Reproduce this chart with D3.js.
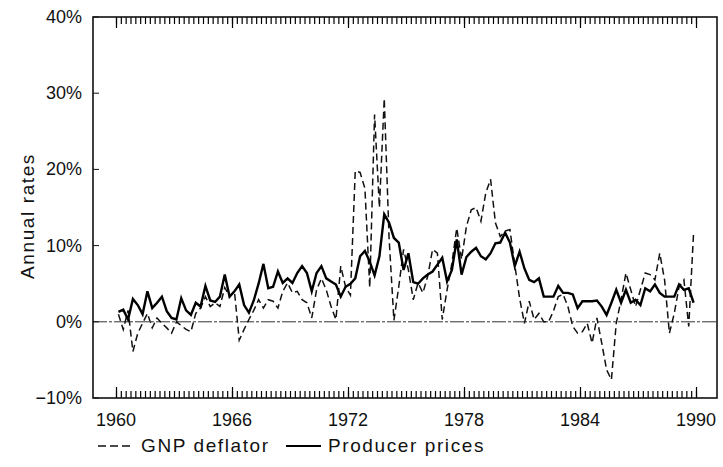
<!DOCTYPE html>
<html>
<head>
<meta charset="utf-8">
<script src="https://cdn.jsdelivr.net/npm/d3@7"></script>
<style>
  html, body { margin: 0; padding: 0; background: #fff; }
  svg { display: block; }
  text { font-family: "Liberation Sans", Arial, Helvetica, sans-serif; fill: #111; }
</style>
</head>
<body>
<svg id="chart" width="723" height="467"></svg>
<script>
// ---- Data (quarterly annual rates, %, 1960Q1 .. 1989Q4) ----
const startYear = 1960;
const producerPrices = [
  1.3, 1.6, 0.3, 3.0, 2.2, 1.0, 4.0, 1.8, 2.5, 3.3,
  1.4, 0.5, 0.3, 3.1, 1.5, 0.9, 2.5, 2.0, 4.7, 2.8,
  2.6, 3.3, 6.2, 3.3, 4.0, 4.9, 2.2, 1.2, 2.8, 5.0,
  7.6, 4.4, 4.6, 6.6, 5.1, 5.7, 5.1, 6.4, 7.3, 6.4,
  4.0, 6.4, 7.3, 5.7, 5.3, 4.9, 3.3, 4.6, 5.0, 5.7,
  8.6, 9.3, 7.9, 6.1, 8.6, 14.1, 13.0, 11.0, 10.4, 6.8,
  9.0, 5.2, 5.0, 5.7, 6.2, 6.6, 7.5, 8.4, 5.3, 6.8,
  10.8, 6.2, 8.5, 9.2, 9.7, 8.6, 8.2, 9.0, 10.3, 10.4,
  11.7, 10.4, 7.3, 9.2, 7.0, 5.5, 5.2, 5.7, 3.3, 3.3,
  3.3, 4.7, 3.8, 3.8, 3.6, 1.8, 2.7, 2.7, 2.7, 2.8,
  2.0, 0.9, 2.5, 4.2, 2.5, 4.2, 2.5, 2.9, 2.2, 4.4,
  4.0, 4.9, 3.8, 3.3, 3.3, 3.3, 4.9, 4.2, 4.4, 2.5
];
const gnpDeflator = [
  1.0, -1.0, 1.5, -3.9, -1.5, -0.2, 1.1, -0.8, 0.5, -0.2,
  -0.8, -1.5, 0.0, -0.5, -1.0, -1.3, 1.1, 1.8, 3.3, 2.0,
  2.5, 2.0, 4.5, 3.3, 4.0, -2.4, -1.0, 0.3, 1.5, 2.9,
  1.8, 2.9, 2.7, 1.8, 4.0, 5.1, 3.8, 4.0, 2.9, 2.5,
  0.5, 4.2, 5.7, 4.2, 2.0, 0.3, 7.3, 4.6, 3.5, 19.8,
  19.6, 17.5, 4.5, 27.2, 15.0, 29.3, 11.0, 0.2, 4.6, 9.5,
  6.8, 2.9, 5.1, 3.8, 6.0, 9.5, 9.0, 0.3, 4.2, 7.7,
  12.3, 8.2, 12.5, 14.7, 15.0, 13.2, 16.9, 18.7, 13.0, 11.2,
  11.9, 12.1, 7.5, 3.1, -0.2, 2.7, 0.3, 1.1, 0.0, 0.0,
  1.4, 3.3, 3.6, 2.0, -0.6, -1.5, -1.3, -0.2, -2.8, 0.5,
  -2.8, -6.3, -7.6, -0.2, 2.9, 6.4, 4.2, 2.0, 4.2, 6.4,
  6.2, 5.5, 9.0, 5.5, -1.5, 1.1, 4.6, 5.5, -0.6, 11.7
];
const yearTicks = [1960, 1966, 1972, 1978, 1984, 1990];
const yTicks = [-10, 0, 10, 20, 30, 40];
const yTickLabels = ["\u221210%", "0%", "10%", "20%", "30%", "40%"];
const seriesNames = ["GNP deflator", "Producer prices"];
const yTitle = "Annual rates";

// ---- Layout ----
const svg = d3.select("#chart");
const frame = { left: 93, right: 717, top: 17, bottom: 398 };
const x = d3.scaleLinear().domain([1960, 1990]).range([116, 696]);
const y = d3.scaleLinear().domain([-10, 40]).range([398, 17]);
const tOf = i => startYear + i / 4 + 0.125;

// zero line
svg.append("line")
  .attr("x1", frame.left).attr("x2", frame.right)
  .attr("y1", y(0)).attr("y2", y(0))
  .attr("stroke", "#333").attr("stroke-width", 1)
  .attr("stroke-dasharray", "14,2,3,2");

// quarterly ticks top & bottom (inward), drawn with d3 axes
const quarterTicks = d3.range(0, 121).map(k => 1960 + k / 4);
const bottomAxis = d3.axisTop(x).tickValues(quarterTicks).tickSize(7).tickFormat("").tickSizeOuter(0);
const topAxis = d3.axisBottom(x).tickValues(quarterTicks).tickSize(7).tickFormat("").tickSizeOuter(0);
const bAx = svg.append("g").attr("transform", `translate(0,${frame.bottom})`).call(bottomAxis);
const tAx = svg.append("g").attr("transform", `translate(0,${frame.top})`).call(topAxis);
[bAx, tAx].forEach(a => {
  a.select(".domain").remove();
  a.selectAll("line").attr("stroke", "#000").attr("stroke-width", 1.2);
});
const majorBottom = d3.axisTop(x).tickValues(yearTicks).tickSize(11).tickFormat("").tickSizeOuter(0);
const majorTop = d3.axisBottom(x).tickValues(yearTicks).tickSize(11).tickFormat("").tickSizeOuter(0);
[svg.append("g").attr("transform", `translate(0,${frame.bottom})`).call(majorBottom),
 svg.append("g").attr("transform", `translate(0,${frame.top})`).call(majorTop)].forEach(a => {
  a.select(".domain").remove();
  a.selectAll("line").attr("stroke", "#000").attr("stroke-width", 1.2);
});

// frame
svg.append("rect")
  .attr("x", frame.left).attr("y", frame.top)
  .attr("width", frame.right - frame.left).attr("height", frame.bottom - frame.top)
  .attr("fill", "none").attr("stroke", "#111").attr("stroke-width", 1.6);

// y ticks (left, inward)
yTicks.forEach((v, k) => {
  svg.append("line").attr("x1", frame.left).attr("x2", frame.left + 6)
    .attr("y1", y(v)).attr("y2", y(v))
    .attr("stroke", "#111").attr("stroke-width", 1);
  svg.append("text").attr("x", 82).attr("y", y(v) + 6)
    .attr("text-anchor", "end").attr("font-size", 18)
    .text(yTickLabels[k]);
});

// x labels
yearTicks.forEach(yr => {
  svg.append("text").attr("x", x(yr)).attr("y", 426)
    .attr("text-anchor", "middle").attr("font-size", 18)
    .text(yr);
});

// y title
svg.append("text")
  .attr("transform", "translate(34,216) rotate(-90)")
  .attr("text-anchor", "middle").attr("font-size", 19)
  .attr("letter-spacing", 1.6)
  .text(yTitle);

// lines
const line = d3.line().x((d, i) => x(tOf(i))).y(d => y(d));
svg.append("path").datum(gnpDeflator)
  .attr("d", line).attr("fill", "none")
  .attr("stroke", "#111").attr("stroke-width", 1.5)
  .attr("stroke-dasharray", "7,4");
svg.append("path").datum(producerPrices)
  .attr("d", line).attr("fill", "none")
  .attr("stroke", "#000").attr("stroke-width", 2.4)
  .attr("stroke-linejoin", "miter");

// legend
const legY = 446;
svg.append("line").attr("x1", 98).attr("x2", 134).attr("y1", legY).attr("y2", legY)
  .attr("stroke", "#111").attr("stroke-width", 1.5).attr("stroke-dasharray", "8,4");
svg.append("text").attr("x", 141).attr("y", legY + 6).attr("font-size", 19)
  .attr("letter-spacing", 1.6).text(seriesNames[0]);
svg.append("line").attr("x1", 286).attr("x2", 321).attr("y1", legY).attr("y2", legY)
  .attr("stroke", "#000").attr("stroke-width", 2);
svg.append("text").attr("x", 328).attr("y", legY + 6).attr("font-size", 19)
  .attr("letter-spacing", 1.6).text(seriesNames[1]);
</script>
</body>
</html>
